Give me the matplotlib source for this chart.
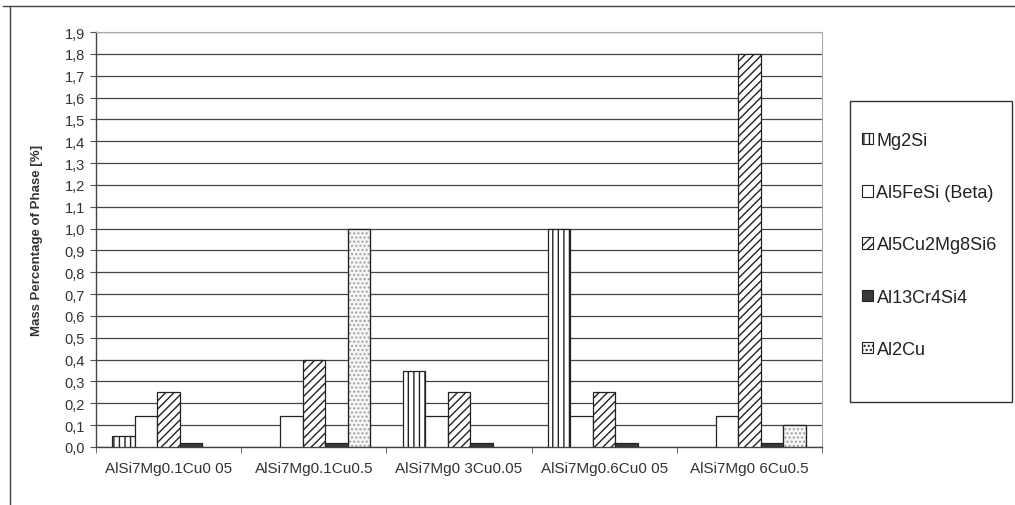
import numpy as np
import matplotlib.pyplot as plt
from matplotlib.patches import Rectangle, Patch
from matplotlib.lines import Line2D

plt.rcParams['font.family'] = ['Liberation Sans', 'DejaVu Sans']
plt.rcParams['hatch.linewidth'] = 1.0

# === Data ===
alloys = ['AlSi7Mg0.1Cu0 05', 'AlSi7Mg0.1Cu0.5', 'AlSi7Mg0 3Cu0.05',
          'AlSi7Mg0.6Cu0 05', 'AlSi7Mg0 6Cu0.5']
phases = ['Mg2Si', 'Al5FeSi (Beta)', 'Al5Cu2Mg8Si6', 'Al13Cr4Si4', 'Al2Cu']

mg2si = [0.05, 0.0, 0.35, 1.0, 0.0]
al5fesi = [0.14, 0.14, 0.14, 0.14, 0.14]
al5cu2mg8si6 = [0.25, 0.40, 0.25, 0.25, 1.80]
al13cr4si4 = [0.02, 0.02, 0.02, 0.02, 0.02]
al2cu = [0.0, 1.0, 0.0, 0.0, 0.10]

yticks = np.round(np.arange(0, 1.91, 0.1), 1)

# === Figure ===
fig = plt.figure(figsize=(10.15, 5.06), dpi=100)
ax = fig.add_axes([96 / 1015, 1 - 448 / 506, 726 / 1015, 415 / 506])

ink = '#222222'
styles = [
    dict(color='white', edgecolor=ink, hatch='|||'),
    dict(color='white', edgecolor=ink),
    dict(color='white', edgecolor=ink, hatch='////'),
    dict(color='#3a3a3a', edgecolor=ink),
    dict(color='#f6f6f6', edgecolor='#a0a0a0', hatch='....'),
]
series = [mg2si, al5fesi, al5cu2mg8si6, al13cr4si4, al2cu]

x = np.arange(len(alloys))
w = 0.155
for j, (vals, st) in enumerate(zip(series, styles)):
    vals = np.array(vals)
    lw = np.where(vals > 0, 0.9, 0.0)
    ax.bar(x + (j - 2) * w, vals, w, linewidth=lw, zorder=3, **st)
    if j == 4:
        # dark outline on top of the dotted bars
        ax.bar(x + (j - 2) * w, vals, w, fill=False, edgecolor=ink,
               linewidth=lw, zorder=4)

ax.set_xlim(-0.5, len(alloys) - 0.5)
ax.set_ylim(0, 1.9)
ax.set_yticks(yticks)
ax.set_yticklabels([f'{v:.1f}'.replace('.', ',') for v in yticks])
ax.set_xticks(x)
ax.set_xticklabels(alloys)
ax.set_xticks(np.arange(len(alloys) + 1) - 0.5, minor=True)
ax.tick_params(axis='x', which='major', length=0, pad=10, labelsize=11,
               labelcolor='#333333')
ax.tick_params(axis='x', which='minor', length=4, direction='out', color='#555555')
ax.tick_params(axis='y', length=4, direction='out', pad=4, labelsize=10.5,
               labelcolor='#333333', color='#555555')
ax.yaxis.grid(True, color='#444444', linewidth=0.9, zorder=0)
ax.set_axisbelow(True)

for side in ['left', 'bottom']:
    ax.spines[side].set_color('#444444')
    ax.spines[side].set_linewidth(1.0)
for side in ['right', 'top']:
    ax.spines[side].set_color('#aaaaaa')
    ax.spines[side].set_linewidth(0.8)

fig.text(37 / 1015, 1 - 240 / 506, 'Mass Percentage of Phase [%]', rotation=90,
         ha='center', va='center', fontsize=9.5, fontweight='bold', color='#333333')

# === Legend ===
handles = [Patch(facecolor=st['color'], edgecolor=st['edgecolor'] if i != 4 else ink,
                 hatch=st.get('hatch'), linewidth=0.8)
           for i, st in enumerate(styles)]
fig.legend(handles, phases, loc='upper left',
           bbox_to_anchor=(853 / 1015, 1 - 124 / 506), frameon=False,
           fontsize=13, labelspacing=1.95, handlelength=0.6, handleheight=0.6,
           handletextpad=0.2, borderpad=0, labelcolor='#222222')
fig.add_artist(Rectangle((850 / 1015, 1 - 403 / 506), 162 / 1015, 301 / 506,
                         transform=fig.transFigure, fill=False,
                         edgecolor='#333333', linewidth=1.0))

# outer frame lines
fig.add_artist(Line2D([3 / 1015, 1], [1 - 7 / 506, 1 - 7 / 506],
                      transform=fig.transFigure, color='#444444', linewidth=1.0))
fig.add_artist(Line2D([10 / 1015, 10 / 1015], [0, 1 - 7 / 506],
                      transform=fig.transFigure, color='#444444', linewidth=1.0))

fig.savefig('out.png', dpi=100)
